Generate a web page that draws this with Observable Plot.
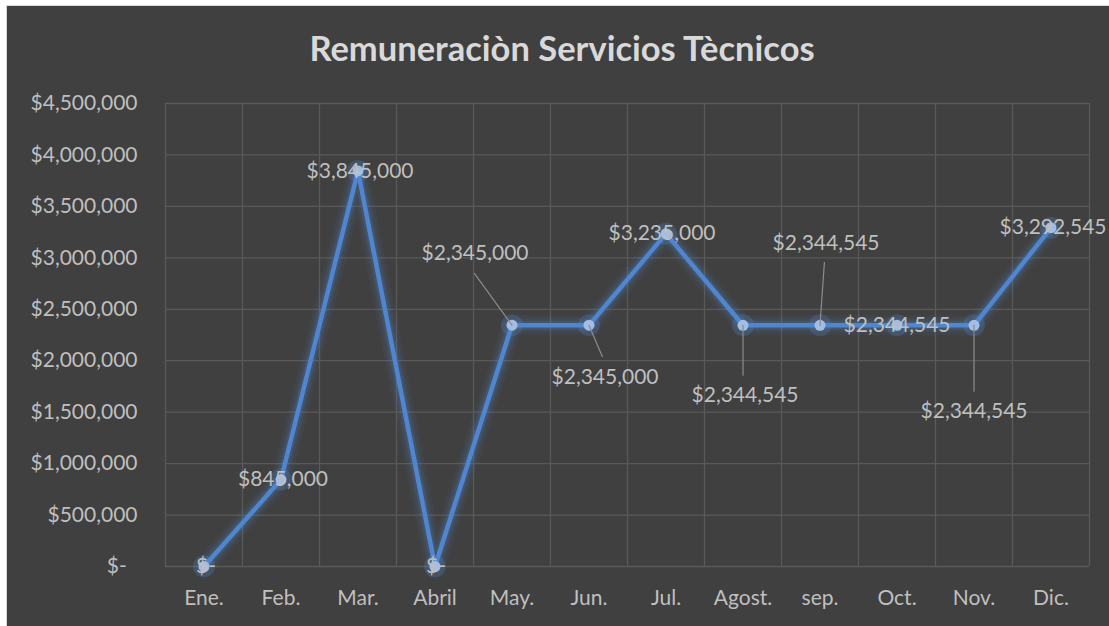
<!DOCTYPE html>
<html>
<head>
<meta charset="utf-8">
<script src="https://cdn.jsdelivr.net/npm/d3@7"></script>
<script src="https://cdn.jsdelivr.net/npm/@observablehq/plot@0.6"></script>
<style>
  html, body { margin: 0; padding: 0; background: #ffffff; }
  #panel { position: absolute; left: 6px; top: 5px; width: 1103px; height: 621px; background: #404040;
           border-left: 1px solid #d9d9d9; border-top: 1px solid #d9d9d9; box-sizing: border-box; }
  #title { position: absolute; left: 0; top: 27px; width: 1124px; text-align: center;
           font-family: Lato, "Open Sans", sans-serif; font-weight: bold; font-size: 34.5px; color: #d9d9d9; }
  #chart { position: absolute; left: 0; top: 0; }
</style>
</head>
<body>
<div id="panel"></div>
<div id="title">Remuneraciòn Servicios Tècnicos</div>
<div id="chart"></div>
<script>
const months = ["Ene.", "Feb.", "Mar.", "Abril", "May.", "Jun.", "Jul.", "Agost.", "sep.", "Oct.", "Nov.", "Dic."];
const values = [0, 845000, 3845000, 0, 2345000, 2345000, 3235000, 2344545, 2344545, 2344545, 2344545, 3292545];
const yTicks = [0, 500000, 1000000, 1500000, 2000000, 2500000, 3000000, 3500000, 4000000, 4500000];

// data-label pixel offsets (layout only)
const labelDx = [2, 2, 2, 1, -37, 16, -4, 2, 6, 0, 0, 2];
const labelDy = [0, 0, 0, 0, -72, 52, 0, 70, -82, 0, 86, 0];
// leader lines (month index, pixel length, angle in degrees clockwise from up)
const leaderIdx = [4, 5, 7, 8, 10];
const leaderLen = [64, 34, 50, 63, 66];
const leaderAngle = [-36, 157, 180, 4, 180];

const fmt = v => v === 0 ? "$-" : "$" + d3.format(",")(v);
const idx = d3.range(months.length);
const data = idx.map(i => ({i, v: values[i]}));
const lineColor = "#4f86cf";

const leaderShape = { draw(context, l) { context.moveTo(0, 0); context.lineTo(0, -l); } };

const marks = [
  Plot.ruleY(yTicks, {stroke: "#595959", strokeWidth: 1.3}),
  Plot.ruleX(d3.range(months.length + 1), {x: d => d - 0.5, stroke: "#595959", strokeWidth: 1.3}),
  // glow
  Plot.line(data, {x: "i", y: "v", stroke: lineColor, strokeWidth: 20, strokeOpacity: 0.06, strokeLinejoin: "round"}),
  Plot.line(data, {x: "i", y: "v", stroke: lineColor, strokeWidth: 14, strokeOpacity: 0.1, strokeLinejoin: "round"}),
  Plot.line(data, {x: "i", y: "v", stroke: lineColor, strokeWidth: 9, strokeOpacity: 0.18, strokeLinejoin: "round"}),
  Plot.dot(data, {x: "i", y: "v", r: 11, fill: lineColor, fillOpacity: 0.25}),
  Plot.line(data, {x: "i", y: "v", stroke: lineColor, strokeWidth: 4.5, strokeLinejoin: "round"}),
  Plot.dot(data, {x: "i", y: "v", r: 5.5, fill: "#a4bde3"}),
  Plot.vector(leaderIdx.map((m, k) => ({i: m, v: values[m], len: leaderLen[k], ang: leaderAngle[k]})),
    {x: "i", y: "v", length: "len", rotate: "ang", anchor: "start", shape: leaderShape,
     stroke: "#8c8c8c", strokeWidth: 1.2})
];
for (const i of idx) {
  marks.push(Plot.text([data[i]], {x: "i", y: "v", text: d => fmt(d.v), dx: labelDx[i], dy: labelDy[i],
    fill: "#bfbfbf", fontSize: 21, textAnchor: "middle", lineAnchor: "middle"}));
}

const chart = Plot.plot({
  width: 1109,
  height: 626,
  marginLeft: 165,
  marginRight: 20,
  marginTop: 103,
  marginBottom: 60,
  style: {background: "transparent", color: "#bfbfbf", fontFamily: "Lato, 'Open Sans', sans-serif", fontSize: "21px"},
  x: {domain: [-0.5, 11.5], ticks: idx, tickFormat: i => months[i], tickSize: 0, tickPadding: 24, label: null},
  y: {domain: [0, 4500000], ticks: yTicks, tickFormat: v => v === 0 ? "$-\u00a0\u00a0" : fmt(v), tickSize: 0, tickPadding: 28, label: null},
  length: {type: "identity"},
  marks
});
document.getElementById("chart").appendChild(chart);
</script>
</body>
</html>
